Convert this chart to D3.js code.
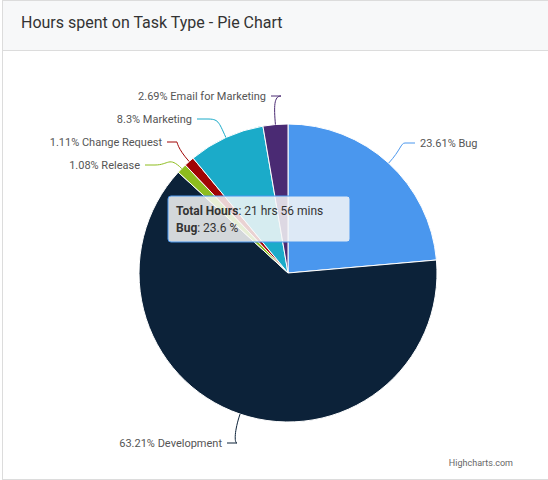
<!DOCTYPE html>
<html><head><meta charset="utf-8">
<script src="https://cdn.jsdelivr.net/npm/d3@7"></script>
<style>
body{margin:0;font-family:Roboto,"Open Sans",sans-serif;background:#fff}
#card{position:absolute;left:2px;top:0;width:560px;height:480px;border:1px solid #dcdcdc;box-sizing:border-box}
#head{height:49px;background:#f7f8f9;border-bottom:1px solid #dcdcdc;font-size:16px;color:#333;line-height:44px;padding-left:18px}
svg{position:absolute;left:0;top:0}
</style></head><body>
<div id="card"><div id="head">Hours spent on Task Type - Pie Chart</div></div>
<svg id="chart" width="548" height="480"></svg>
<script>
const categories = ["Bug", "Development", "Release", "Change Request", "Marketing", "Email for Marketing"];
const values = [23.61, 63.21, 1.08, 1.11, 8.3, 2.69];
const colors = ["#4a97ee", "#0c2239", "#8ebd1e", "#a10505", "#1babc9", "#4a2a73"];
// label anchor positions (end of connector)
const labelPos = [[420,143,"start"],[222,443,"end"],[140,165,"end"],[162,142,"end"],[192,119,"end"],[266,96,"end"]];

const data = categories.map((c, i) => ({name: c, value: values[i], color: colors[i], lp: labelPos[i]}));
const svg = d3.select("#chart");
const cx = 288, cy = 273, r = 149;
const g = svg.append("g").attr("transform", `translate(${cx},${cy})`);
const pie = d3.pie().value(d => d.value).sort(null);
const arc = d3.arc().innerRadius(0).outerRadius(r);
const arcs = pie(data);

g.selectAll("path.slice").data(arcs).join("path")
  .attr("class", "slice")
  .attr("d", arc)
  .attr("fill", d => d.data.color)
  .attr("stroke", "#fff").attr("stroke-width", 1);

// connectors + labels
arcs.forEach(a => {
  const mid = (a.startAngle + a.endAngle) / 2;
  const p0 = [Math.sin(mid) * r, -Math.cos(mid) * r];
  const p1 = [Math.sin(mid) * (r + 18), -Math.cos(mid) * (r + 18)];
  const [lx, ly, anchor] = a.data.lp;
  const ex = lx - cx + (anchor === "start" ? -5 : 5), ey = ly - cy;
  const mx = ex + (anchor === "start" ? -10 : 10);
  g.append("path")
    .attr("d", `M${p0[0]},${p0[1]} C${p1[0]},${p1[1]} ${p1[0]},${ey} ${mx},${ey} L${ex},${ey}`)
    .attr("fill", "none").attr("stroke", a.data.color).attr("stroke-width", 1);
  g.append("text")
    .attr("x", lx - cx).attr("y", ly - cy).attr("dy", "0.35em")
    .attr("text-anchor", anchor)
    .attr("font-size", 11).attr("fill", "#555")
    .text(`${a.data.value}% ${a.data.name}`);
});

// tooltip
const tip = svg.append("g").attr("transform", "translate(168,196)");
tip.append("rect").attr("width", 182).attr("height", 46).attr("rx", 3)
  .attr("fill", "rgba(247,247,247,0.85)").attr("stroke", "#4a97ee").attr("stroke-width", 1);
const t1 = tip.append("text").attr("x", 8).attr("y", 19).attr("font-size", 12).attr("fill", "#333");
t1.append("tspan").attr("font-weight", "bold").text("Total Hours");
t1.append("tspan").text(": 21 hrs 56 mins");
const t2 = tip.append("text").attr("x", 8).attr("y", 36).attr("font-size", 12).attr("fill", "#333");
t2.append("tspan").attr("font-weight", "bold").text("Bug");
t2.append("tspan").text(": 23.6 %");

svg.append("text").attr("x", 513).attr("y", 466).attr("text-anchor", "end")
  .attr("font-size", 9).attr("fill", "#666").text("Highcharts.com");
</script>
</body></html>
